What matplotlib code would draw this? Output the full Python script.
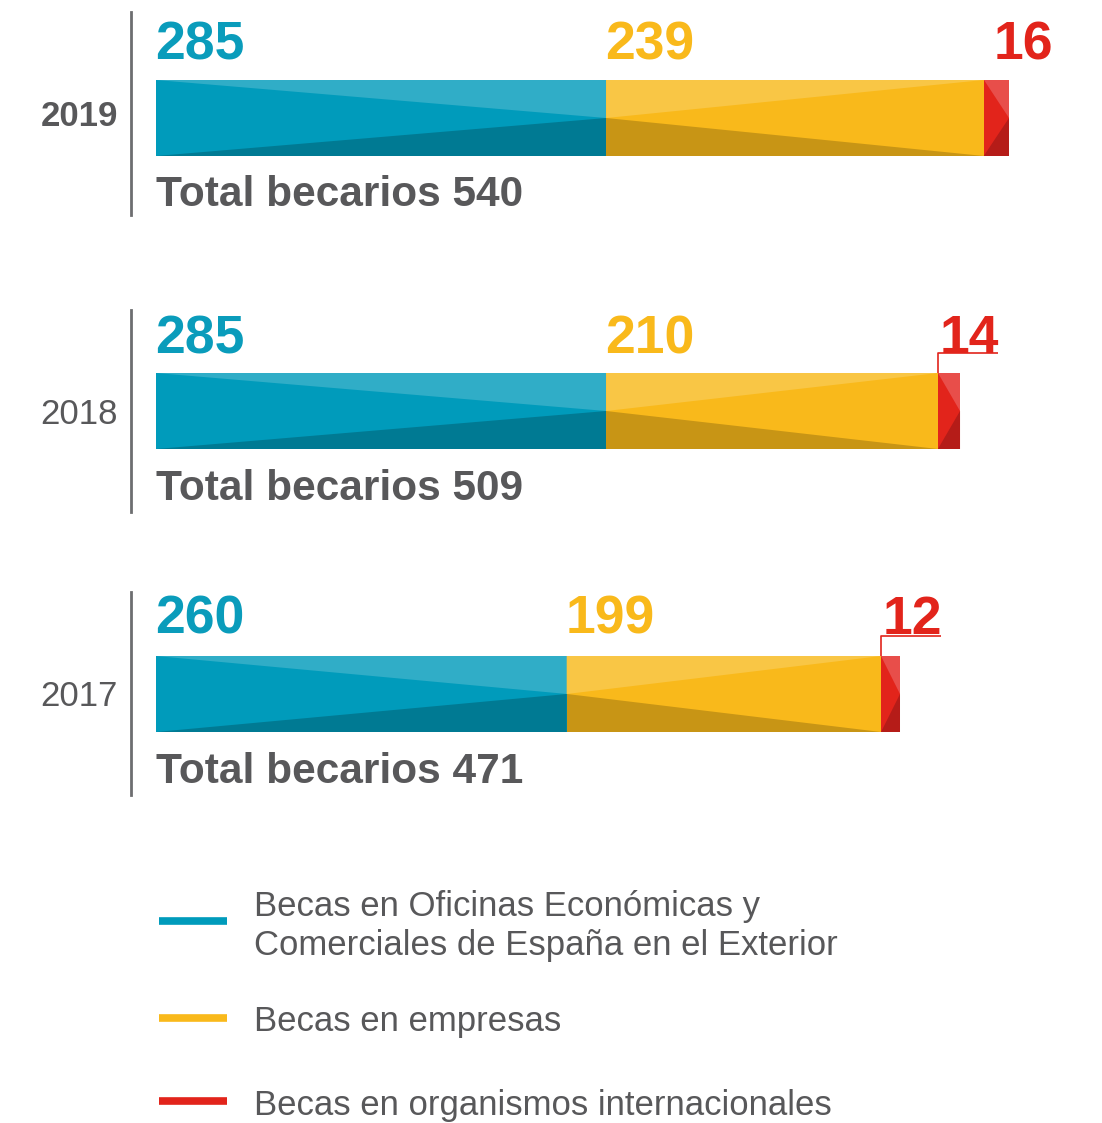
import matplotlib
matplotlib.use("Agg")
import matplotlib.pyplot as plt
from matplotlib.patches import Polygon

plt.rcParams['font.family'] = ['Liberation Sans', 'DejaVu Sans']

# ---- data ----
years = ["2019", "2018", "2017"]
oficinas = [285, 285, 260]
empresas = [239, 210, 199]
organismos = [16, 14, 12]
totals = [540, 509, 471]
series_names = ["Becas en Oficinas Económicas y\nComerciales de España en el Exterior",
                "Becas en empresas",
                "Becas en organismos internacionales"]

# ---- style ----
W, H = 1102, 1123
BLUE = ("#009bbb", "#30adc7", "#007a93")
YELLOW = ("#f9b91b", "#f9c645", "#c89515")
RED = ("#e2241b", "#e84e4a", "#b51c18")
LABEL_COLORS = ["#0a9cbb", "#f9b91b", "#e2241b"]
GRAY = "#58585a"

fig = plt.figure(figsize=(W / 100, H / 100), dpi=100)

# overlay axes in pixel coordinates for decorations
ov = fig.add_axes([0, 0, 1, 1])
ov.set_xlim(0, W)
ov.set_ylim(H, 0)
ov.axis("off")

# bar axes: x in data units
x_left, x_right = 156, 1009
xmax = max(totals)
ax = fig.add_axes([x_left / W, 0, (x_right - x_left) / W, 1])
ax.set_xlim(0, xmax)
ax.set_ylim(H, 0)
ax.axis("off")
k = (x_right - x_left) / xmax  # px per unit

bar_tops = [80, 373, 656]
bar_h = 76
label_base = [59, 353, 634]
total_base = [206, 500, 783]
sep_span = [(12, 215), (310, 512), (592, 795)]
year_y = [117, 415, 697]
year_bold = [True, False, False]
leader = [False, True, True]


def faceted(x0, x1, t, b, cols, style):
    m = (t + b) / 2
    base, light, dark = cols
    ax.add_patch(Polygon([(x0, t), (x1, t), (x1, b), (x0, b)], closed=True,
                         facecolor=base, edgecolor="none"))
    if style == "a":
        lt = [(x0, t), (x1, t), (x1, m)]
        dk = [(x0, b), (x1, m), (x1, b)]
    else:
        lt = [(x0, t), (x1, t), (x0, m)]
        dk = [(x0, m), (x0, b), (x1, b)]
    ax.add_patch(Polygon(lt, closed=True, facecolor=light, edgecolor="none"))
    ax.add_patch(Polygon(dk, closed=True, facecolor=dark, edgecolor="none"))


NUM_FS = 38.5
for i, yr in enumerate(years):
    t = bar_tops[i]
    b = t + bar_h
    vals = [oficinas[i], empresas[i], organismos[i]]
    cols = [BLUE, YELLOW, RED]
    styles = ["a", "b", "a"]
    start = 0
    for j, v in enumerate(vals):
        faceted(start, start + v, t, b, cols[j], styles[j])
        if j == 2 and leader[i]:
            ly = t - 20
            ax.plot([start, start, start + 60 / k], [t, ly, ly],
                    color=LABEL_COLORS[2], lw=1.2, solid_capstyle="butt")
            ax.text(start + 2 / k, label_base[i], str(v), color=LABEL_COLORS[j],
                    fontsize=NUM_FS, fontweight="bold", ha="left", va="baseline")
        elif j == 2:
            ax.text(start + 10 / k, label_base[i], str(v), color=LABEL_COLORS[j],
                    fontsize=NUM_FS, fontweight="bold", ha="left", va="baseline")
        else:
            ax.text(start - 1 / k, label_base[i], str(v), color=LABEL_COLORS[j],
                    fontsize=NUM_FS, fontweight="bold", ha="left", va="baseline")
        start += v
    ax.text(0, total_base[i], f"Total becarios {totals[i]}", color=GRAY,
            fontsize=30.5, fontweight="bold", ha="left", va="baseline")

    # separator line and year label
    ov.plot([131, 131], list(sep_span[i]), color="#6d6e70", lw=2)
    ov.text(118, year_y[i], yr, color=GRAY, fontsize=25,
            fontweight="bold" if year_bold[i] else "normal",
            ha="right", va="center")

# legend
leg_y = [921, 1018, 1101]
leg_text_y = [926, 1021, 1105]
for name, c, ly, ty in zip(series_names, [BLUE[0], YELLOW[0], RED[0]], leg_y, leg_text_y):
    ov.plot([159, 227], [ly, ly], color=c, lw=5.5, solid_capstyle="butt")
    ov.text(254, ty, name, color=GRAY, fontsize=25, ha="left", va="center",
            linespacing=1.26)

fig.savefig("out.png", dpi=100)
